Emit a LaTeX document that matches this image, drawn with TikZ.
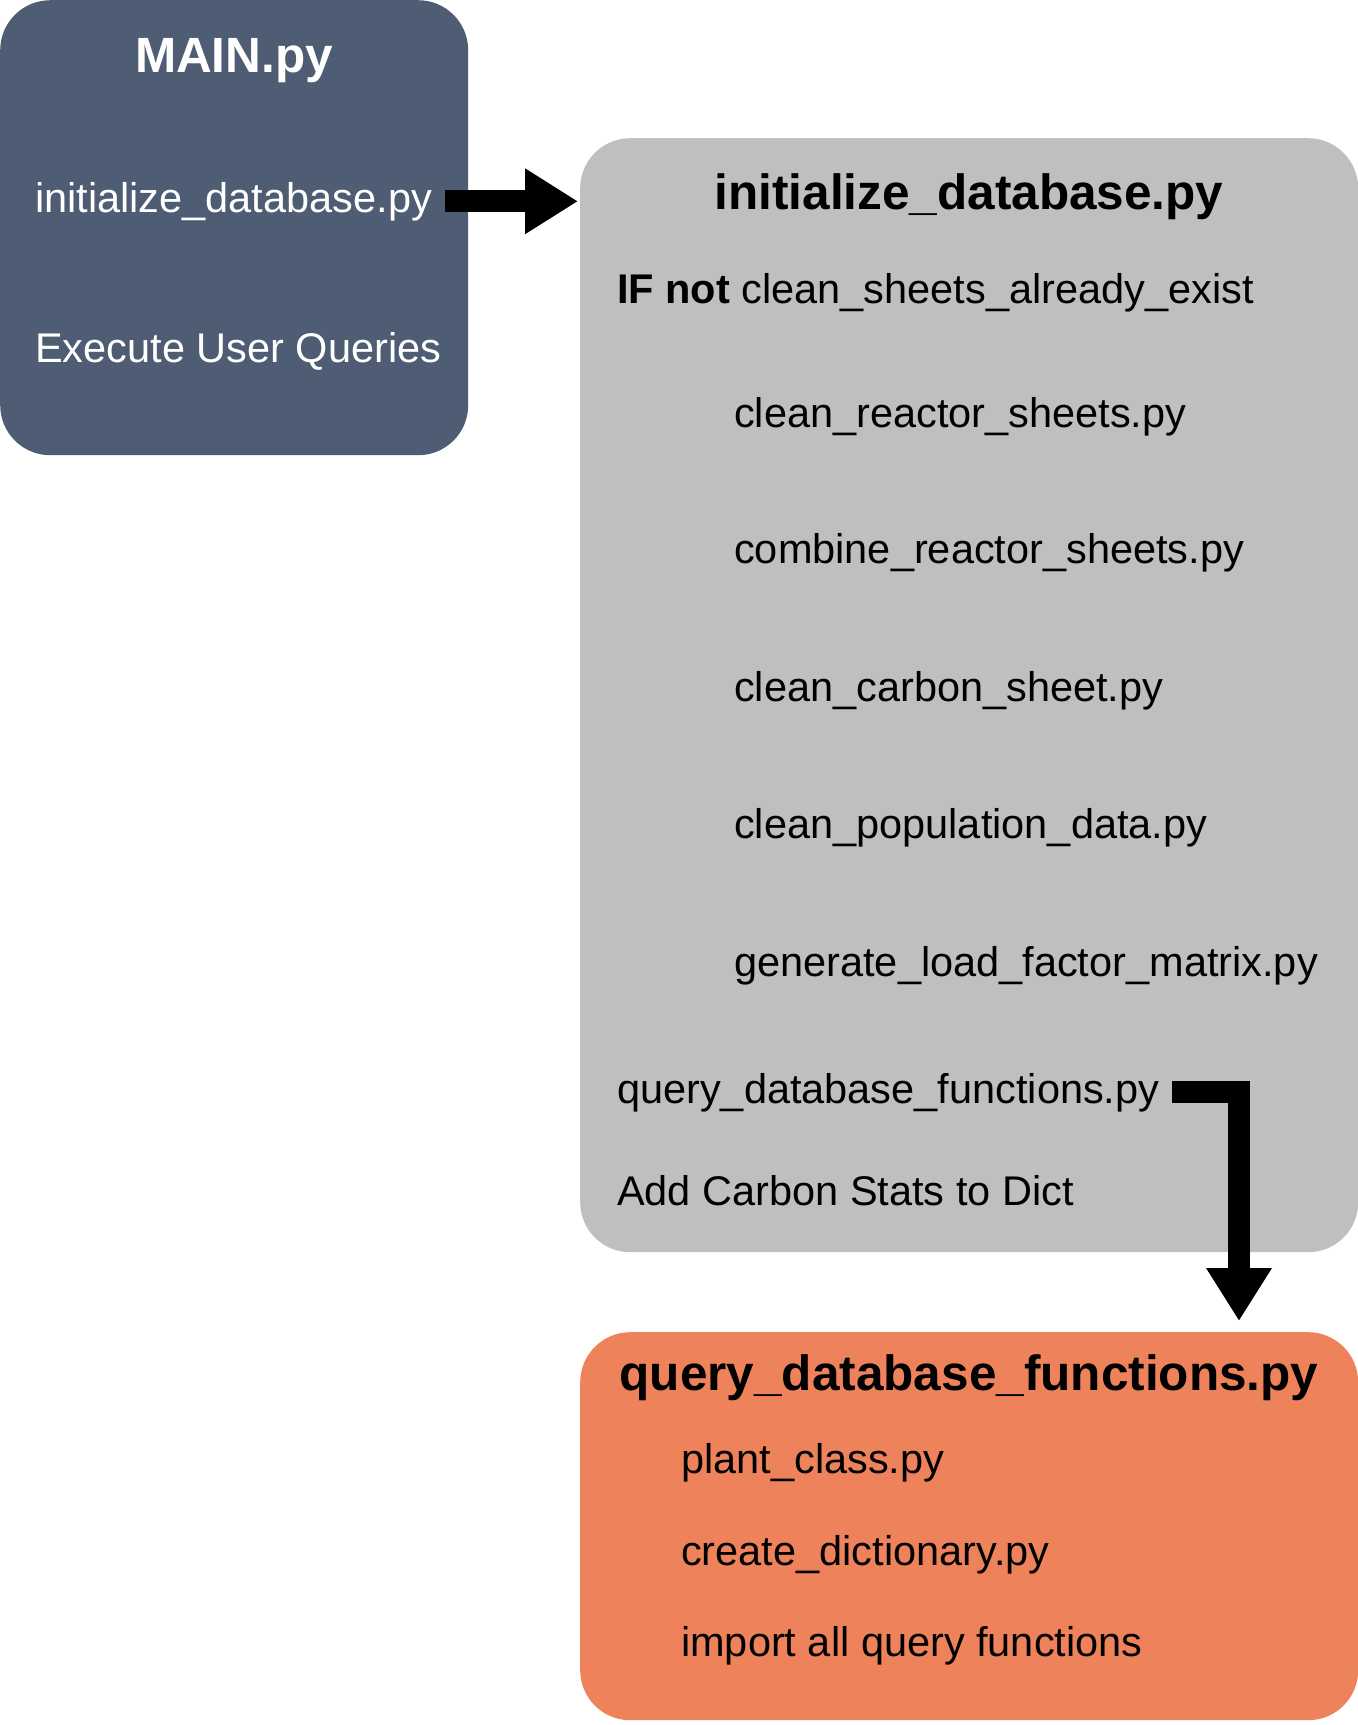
\documentclass[tikz,border=0pt]{standalone}
\usepackage{fontspec}
\setmainfont{Liberation Sans}
\usetikzlibrary{arrows.meta, calc}

\definecolor{slate}{HTML}{4E5D73}
\definecolor{lightgray}{HTML}{BFBFBF}
\definecolor{salmon}{HTML}{EE835B}

\begin{document}
\begin{tikzpicture}[x = 1pt, y = -1pt, line join = miter,
        box/.style={rounded corners = 50pt, inner sep = 0pt, anchor = north west, minimum width = 778pt},
        title/.style={inner sep = 0pt, anchor = base, font = \fontsize{49.5}{60}\selectfont\bfseries},
        item/.style={inner sep = 0pt, anchor = base west, font = \fontsize{41.5}{50}\selectfont},
        bigarrow/.style={line width = 22pt, -{Triangle[width = 62pt, length = 53pt]}}]
        %
        \def\RightCol{617}
        \def\Indent{734}
        \def\QIndent{681}
        %
        \useasboundingbox (0, 0) rectangle (1358, 1725);

        % main
        \node [box, fill = slate, minimum width = 468pt, minimum height = 455pt] (mainbox) at (0, 0) {};
        \node [title, text = white] (maintitle) at (234, 72) {MAIN.py};
        \node [item, text = white] (callinit) at (35, 212) {initialize\_database.py};
        \node [item, text = white] (execq) at (35, 362) {Execute User Queries};

        % initialize database
        \node [box, fill = lightgray, minimum height = 1114pt] (initbox) at (580, 138) {};
        \node [title] (inittitle) at (969, 209) {initialize\_database.py};
        \node [item] (ifnot) at (\RightCol, 303) {{\bfseries IF not} clean\_sheets\_already\_exist};
        \foreach \name/\ypos/\txt in {cleanreactor/427/clean\_reactor\_sheets.py, combine/563/combine\_reactor\_sheets.py,
            cleancarbon/701/clean\_carbon\_sheet.py, cleanpop/838/clean\_population\_data.py,
            genload/976/generate\_load\_factor\_matrix.py}
        {
            \node [item] (\name) at (\Indent, \ypos) {\txt};
        }
        \node [item] (callquery) at (\RightCol, 1103) {query\_database\_functions.py};
        \node [item] (addcarbon) at (\RightCol, 1205) {Add Carbon Stats to Dict};

        % query database functions
        \node [box, fill = salmon, minimum height = 388pt] (querybox) at (580, 1332) {};
        \node [title] (querytitle) at (969, 1390) {query\_database\_functions.py};
        \foreach \name/\ypos/\txt in {plantclass/1473/plant\_class.py, createdict/1565/create\_dictionary.py,
            importall/1656/import all query functions}
        {
            \node [item] (\name) at (\QIndent, \ypos) {\txt};
        }

        % arrows
        \draw [bigarrow] ([xshift = 13pt] callinit.east) -- ($(initbox.west |- callinit.east) + (-2, 0)$);
        \coordinate (bend) at (1239, 1092);
        \draw [bigarrow] ([xshift = 12pt] callquery.east |- bend) -- (bend) -- ($(bend |- querybox.north) + (0, -11)$);
    \end{tikzpicture}
\end{document}
